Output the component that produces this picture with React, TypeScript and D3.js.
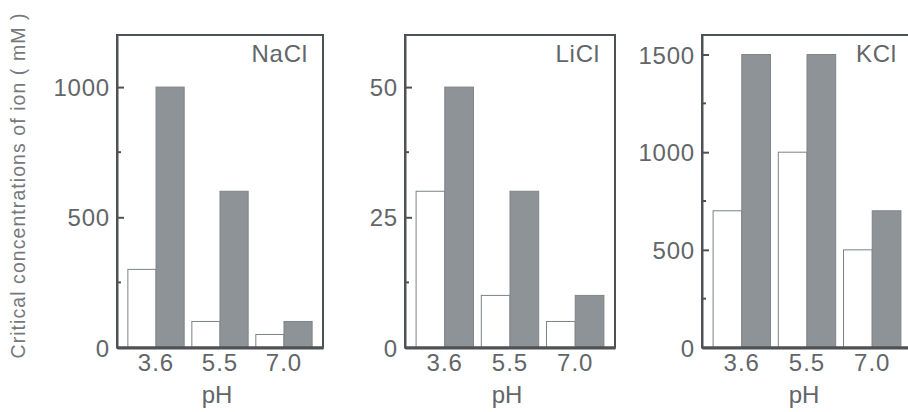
import { useEffect, useRef } from 'react';
import * as d3 from 'd3';

const phLabels = ['3.6', '5.5', '7.0'];
const seriesKeys = ['open', 'filled'];

const naclOpen = [300, 100, 50];
const naclFilled = [1000, 600, 100];
const liclOpen = [30, 10, 5];
const liclFilled = [50, 30, 10];
const kclOpen = [700, 1000, 500];
const kclFilled = [1500, 1500, 700];

const naclTicks = [0, 500, 1000];
const naclMinor = [250, 750];
const liclTicks = [0, 25, 50];
const liclMinor = [12.5, 37.5];
const kclTicks = [0, 500, 1000, 1500];
const kclMinor = [250, 750, 1250];

const panels = [
  { name: 'NaCl', open: naclOpen, filled: naclFilled, max: 1200, ticks: naclTicks, minor: naclMinor, left: 117, right: 323 },
  { name: 'LiCl', open: liclOpen, filled: liclFilled, max: 60, ticks: liclTicks, minor: liclMinor, left: 405, right: 615 },
  { name: 'KCl', open: kclOpen, filled: kclFilled, max: 1600, ticks: kclTicks, minor: kclMinor, left: 702, right: 912 },
];

const textColor = '#626669';
const axisColor = '#4f5254';
const font = 'Liberation Sans, Arial, sans-serif';

export default function App() {
  const svgRef = useRef<SVGSVGElement>(null);

  useEffect(() => {
    const svg = d3.select(svgRef.current);
    svg.selectAll('*').remove();

    const width = 908;
    const height = 412;
    const top = 35;
    const bottom = 347.5;

    svg.attr('width', width).attr('height', height);

    svg.append('text')
      .attr('transform', `translate(20, 186) rotate(-90)`)
      .attr('text-anchor', 'middle')
      .attr('dominant-baseline', 'middle')
      .attr('font-family', font)
      .attr('font-size', 19.5)
      .attr('textLength', 345)
      .attr('lengthAdjust', 'spacing')
      .attr('fill', '#75797c')
      .text('Critical concentrations of ion ( mM )');

    panels.forEach(p => {
      const yScale = d3.scaleLinear().domain([0, p.max]).range([bottom, top]);
      const xScale = d3.scaleBand()
        .domain(phLabels)
        .range([p.left, p.right])
        .paddingInner(0.12)
        .paddingOuter(0.17);
      const sub = d3.scaleBand().domain(seriesKeys).range([0, xScale.bandwidth()]);

      const g = svg.append('g');

      const rows = phLabels.map((ph, i) => ({ ph, open: p.open[i], filled: p.filled[i] }));

      rows.forEach(r => {
        seriesKeys.forEach(k => {
          const v = k === 'open' ? r.open : r.filled;
          g.append('rect')
            .attr('x', (xScale(r.ph) as number) + (sub(k) as number))
            .attr('y', yScale(v))
            .attr('width', sub.bandwidth())
            .attr('height', yScale(0) - yScale(v))
            .attr('fill', k === 'open' ? '#ffffff' : '#8e9397')
            .attr('stroke', k === 'open' ? '#7d8285' : '#7f8488')
            .attr('stroke-width', 1);
        });
      });

      // frame
      g.append('rect')
        .attr('x', p.left)
        .attr('y', yScale(p.max))
        .attr('width', p.right - p.left)
        .attr('height', yScale(0) - yScale(p.max))
        .attr('fill', 'none')
        .attr('stroke', axisColor)
        .attr('stroke-width', 2);

      // y axis
      const yAxis = g.append('g')
        .attr('transform', `translate(${p.left},0)`)
        .call(d3.axisLeft(yScale).tickValues(p.ticks).tickFormat(d3.format('d')).tickSizeInner(-7).tickSizeOuter(0).tickPadding(7));
      yAxis.select('.domain').attr('stroke', axisColor).attr('stroke-width', 2);
      yAxis.selectAll('.tick line').attr('stroke', axisColor).attr('stroke-width', 2);
      yAxis.selectAll('.tick text')
        .attr('fill', textColor)
        .attr('font-family', font)
        .attr('font-size', 24)
        .attr('letter-spacing', 0.8)
        .attr('dy', '0.36em');

      g.selectAll('.minor')
        .data(p.minor)
        .join('line')
        .attr('class', 'minor')
        .attr('x1', p.left)
        .attr('x2', p.left + 4)
        .attr('y1', d => yScale(d))
        .attr('y2', d => yScale(d))
        .attr('stroke', axisColor)
        .attr('stroke-width', 2);

      // x axis
      const xAxis = g.append('g')
        .attr('transform', `translate(0,${yScale(0)})`)
        .call(d3.axisBottom(xScale).tickSize(0).tickPadding(6));
      xAxis.select('.domain').attr('stroke', axisColor).attr('stroke-width', 3);
      xAxis.selectAll('.tick text')
        .attr('fill', textColor)
        .attr('font-family', font)
        .attr('font-size', 24)
        .attr('letter-spacing', 1);

      g.append('text')
        .attr('x', (xScale(phLabels[1]) as number) + xScale.bandwidth() / 2 - 3)
        .attr('y', 403)
        .attr('text-anchor', 'middle')
        .attr('font-family', font)
        .attr('font-size', 24)
        .attr('fill', textColor)
        .text('pH');

      g.append('text')
        .attr('x', p.right - 15)
        .attr('y', 62)
        .attr('text-anchor', 'end')
        .attr('font-family', font)
        .attr('font-size', 24)
        .attr('letter-spacing', 0.8)
        .attr('fill', textColor)
        .text(p.name);
    });
  }, []);

  return <svg ref={svgRef} style={{ position: 'absolute', left: 0, top: 0, background: '#fff' }}></svg>;
}
